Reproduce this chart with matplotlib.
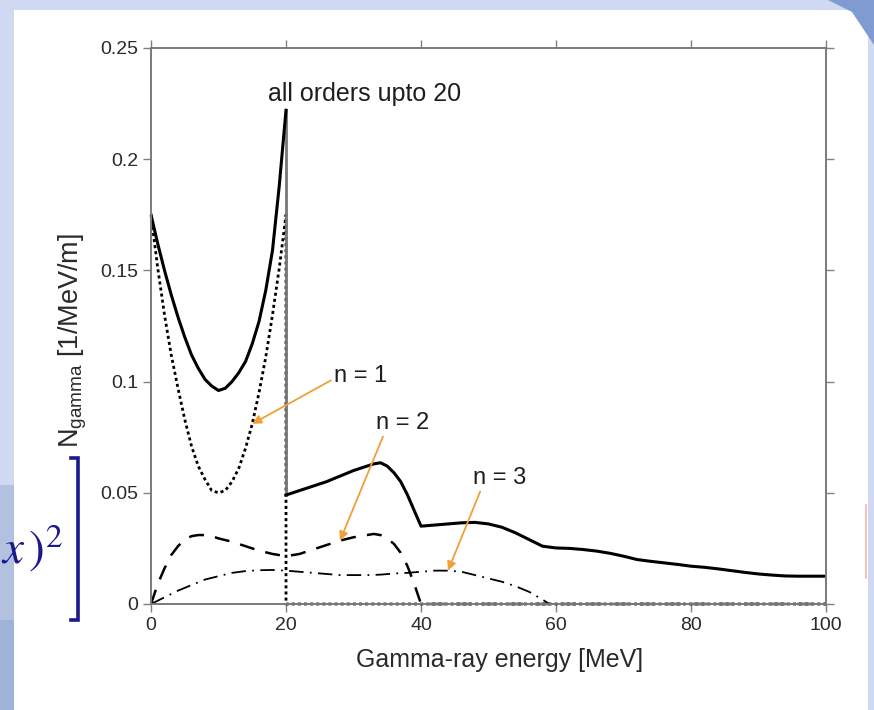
import numpy as np
import matplotlib
matplotlib.use("Agg")
import matplotlib.pyplot as plt
from matplotlib.patches import Rectangle, Polygon
from matplotlib.lines import Line2D

plt.rcParams['font.family'] = ['Liberation Sans', 'DejaVu Sans']

# photon spectrum, all harmonic orders summed (jump at 20 MeV)
tot_lo_x = [0, 1, 2, 3, 4, 5, 6, 7, 8, 9, 10, 11, 12, 13, 14, 15, 16, 17, 18, 19, 20]
tot_lo_y = [0.175, 0.162, 0.150, 0.139, 0.129, 0.120, 0.112, 0.106, 0.101, 0.098, 0.096,
            0.097, 0.100, 0.104, 0.109, 0.117, 0.127, 0.141, 0.159, 0.188, 0.222]
tot_hi_x = [20, 22, 24, 26, 28, 30, 32, 33, 34, 35, 36, 37, 38, 39, 40, 42, 44, 46, 48, 50,
            52, 54, 56, 58, 60, 62, 64, 66, 68, 70, 72, 74, 76, 78, 80, 82, 84, 86, 88, 90,
            92, 94, 96, 98, 100]
tot_hi_y = [0.049, 0.051, 0.053, 0.055, 0.0575, 0.060, 0.062, 0.063, 0.0635, 0.062, 0.059,
            0.055, 0.049, 0.042, 0.035, 0.0355, 0.036, 0.0365, 0.0367, 0.036, 0.0345, 0.032,
            0.029, 0.026, 0.0252, 0.025, 0.0245, 0.0238, 0.0228, 0.0215, 0.020, 0.0192, 0.0185,
            0.0178, 0.017, 0.0165, 0.0158, 0.015, 0.0142, 0.0135, 0.013, 0.0126, 0.0125,
            0.0125, 0.0125]

# first harmonic
n1_x = [0, 1, 2, 3, 4, 5, 6, 7, 8, 9, 10, 11, 12, 13, 14, 15, 16, 17, 18, 19, 20, 20, 100]
n1_y = [0.175, 0.151, 0.130, 0.112, 0.097, 0.083, 0.071, 0.062, 0.056, 0.051, 0.050, 0.051,
        0.055, 0.061, 0.070, 0.081, 0.095, 0.111, 0.130, 0.151, 0.175, 0.0, 0.0]

# second harmonic
n2_x = [0, 1, 2, 3, 4, 5, 6, 7, 8, 9, 10, 12, 14, 16, 18, 20, 22, 24, 26, 28, 30, 32, 33,
        34, 35, 36, 37, 38, 39, 40, 100]
n2_y = [0.0, 0.009, 0.016, 0.022, 0.026, 0.029, 0.0305, 0.031, 0.031, 0.0305, 0.0295, 0.028,
        0.026, 0.024, 0.0225, 0.0215, 0.0225, 0.0245, 0.0265, 0.0285, 0.030, 0.031, 0.0315,
        0.031, 0.0295, 0.027, 0.023, 0.017, 0.009, 0.0, 0.0]

# third harmonic
n3_x = [0, 2, 4, 6, 8, 10, 12, 14, 16, 18, 20, 22, 24, 26, 28, 30, 32, 34, 36, 38, 40, 42,
        44, 46, 48, 50, 52, 54, 56, 58, 59, 100]
n3_y = [0.0, 0.003, 0.006, 0.0085, 0.011, 0.0125, 0.014, 0.0148, 0.0152, 0.0153, 0.015,
        0.0145, 0.014, 0.0135, 0.013, 0.013, 0.013, 0.0132, 0.0137, 0.014, 0.0145, 0.015,
        0.015, 0.0145, 0.013, 0.0115, 0.010, 0.008, 0.0055, 0.002, 0.0, 0.0]

xticks = [0, 20, 40, 60, 80, 100]
yticks = [0, 0.05, 0.1, 0.15, 0.2, 0.25]
ytick_labels = ['0', '0.05', '0.1', '0.15', '0.2', '0.25']

W, H = 874, 710
fig = plt.figure(figsize=(W / 100, H / 100), dpi=100, facecolor='#cfd9f1')

def fx(px):
    return px / W

def fy(py):
    return 1 - py / H

# slide background pieces
bg = dict(transform=fig.transFigure, edgecolor='none', zorder=-2)
fig.patches.append(Rectangle((0, 0), fx(14), fy(485), facecolor='#b3c1e1', **bg))
fig.patches.append(Rectangle((0, 0), fx(14), fy(620), facecolor='#9fb3da', **bg))
fig.patches.append(Rectangle((fx(14), 0), fx(868 - 14), fy(10), facecolor='white', **bg))
fig.patches.append(Polygon([(fx(828), 1), (1, 1), (1, fy(45)), (fx(852), fy(12))],
                           closed=True, facecolor='#7f9bd2', **bg))
fig.lines.append(Line2D([fx(866), fx(866)], [fy(505), fy(578)], transform=fig.transFigure,
                        color='#f2b4b4', lw=1.2, zorder=-1))

# bracket and formula fragment at the left edge
navy = '#1a1a8c'
fig.lines.append(Line2D([fx(71), fx(78), fx(78), fx(71)], [fy(458), fy(458), fy(620), fy(620)],
                        transform=fig.transFigure, color=navy, lw=2.6,
                        solid_joinstyle='miter'))
fig.text(fx(63), fy(548), r'$x\,)^{2}$', ha='right', va='center', fontsize=34,
         color=navy, math_fontfamily='stix')

ax = fig.add_axes([fx(151), fy(604), fx(826 - 151), fy(48) - fy(604)])
ax.set_zorder(1)
ax.set_facecolor('white')

ax.plot(n1_x, n1_y, color='black', lw=2.0, linestyle=(0, (1.1, 1.1)), clip_on=False)
ax.plot(n2_x, n2_y, color='black', lw=1.8, linestyle=(0, (6, 4.5)), clip_on=False)
ax.plot(n3_x, n3_y, color='black', lw=1.3, linestyle=(0, (8, 3.5, 1, 3.5)), clip_on=False)
ax.plot([tot_lo_x[-1], tot_hi_x[0]], [tot_lo_y[-1], tot_hi_y[0]], color='#777777', lw=2.0)
ax.plot(tot_lo_x, tot_lo_y, color='black', lw=2.2)
ax.plot(tot_hi_x, tot_hi_y, color='black', lw=2.2)

ax.set_xlim(0, 100)
ax.set_ylim(0, 0.25)
ax.set_xticks(xticks)
ax.set_yticks(yticks)
ax.set_yticklabels(ytick_labels)
ax.tick_params(direction='out', length=6, width=1, color='#808080', labelsize=14,
               labelcolor='#2a2a2a', top=True, right=True, pad=3)
for s in ax.spines.values():
    s.set_color('#7a7a7a')
    s.set_linewidth(1.4)

txt = dict(fontsize=17, color='#1e1e1e')
ax.text(31.7, 0.2293, 'all orders upto 20', ha='center', va='center',
        fontsize=18, color='#1e1e1e')

orange = '#f0a038'
arrow = dict(arrowstyle='-|>', color=orange, lw=1.3, mutation_scale=13, shrinkA=0, shrinkB=0)
ax.annotate('n = 1', xy=(n1_x[15], n1_y[15]), xytext=(31.0, 0.1027), ha='center', va='center',
            arrowprops=dict(arrow, relpos=(0.0, 0.35)), **txt)
ax.annotate('n = 2', xy=(n2_x[19], n2_y[19]), xytext=(37.3, 0.0815), ha='center', va='center',
            arrowprops=dict(arrow, relpos=(0.15, 0.0)), **txt)
ax.annotate('n = 3', xy=(n3_x[22], n3_y[22]), xytext=(51.7, 0.0568), ha='center', va='center',
            arrowprops=dict(arrow, relpos=(0.15, 0.0)), **txt)

fig.text(fx(500), fy(660), 'Gamma-ray energy [MeV]', ha='center', va='center',
         fontsize=18, color='#2a2a2a')
fig.text(fx(73), fy(340), r'N$_{\mathregular{gamma}}$ [1/MeV/m]', rotation=90,
         ha='center', va='center', fontsize=19.5, color='#2a2a2a')

fig.savefig('out.png', dpi=100, facecolor=fig.get_facecolor())
